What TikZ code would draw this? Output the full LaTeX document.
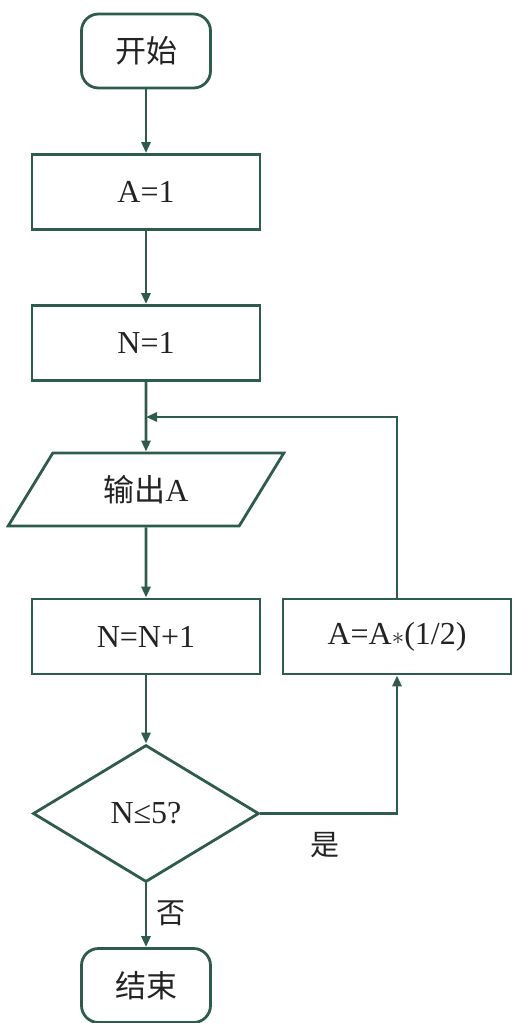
\documentclass[tikz,border=0pt]{standalone}
\usepackage{fontspec}
\setmainfont{Liberation Serif}
\newfontfamily\cjk{Noto Sans CJK SC}
\usetikzlibrary{shapes.geometric,arrows.meta}
\definecolor{lc}{RGB}{45,92,78}
\definecolor{tc}{RGB}{35,35,35}
\begin{document}
\begin{tikzpicture}[x=1pt,y=-1pt,
  every node/.style={text=tc, font=\fontsize{32}{34}\selectfont},
  boxnode/.style={draw=lc, line width=2.8pt, rectangle, minimum width=228pt, minimum height=75pt, inner sep=0pt},
  termnode/.style={draw=lc, line width=2.8pt, rectangle, rounded corners=17pt, minimum width=129pt, minimum height=74pt, inner sep=0pt, font=\cjk\fontsize{31}{33}\selectfont},
  ionode/.style={draw=lc, line width=2.8pt, trapezium, trapezium left angle=54.5, trapezium right angle=125.5, trapezium stretches=true, minimum width=276pt, minimum height=73pt, inner sep=0pt},
  decnode/.style={draw=lc, line width=2.8pt, diamond, minimum width=226pt, minimum height=137pt, inner sep=0pt},
  flow/.style={draw=lc, line width=2.8pt, -{Triangle[length=11pt,width=9pt]}},
  lbl/.style={font=\cjk\fontsize{29}{31}\selectfont}
]
\useasboundingbox (0,0) rectangle (513,1023);

\node[termnode] (start) at (146,51) {开始};
\node[boxnode] (a1) at (146,192) {A=1};
\node[boxnode] (n1) at (146,343) {N=1};
\node[ionode] (out) at (146,489.5) {{\cjk\fontsize{31}{33}\selectfont 输出}A};
\node[boxnode] (inc) at (146,636.5) {N=N+1};
\node[boxnode] (half) at (397,636.5) {A=A$*$(1/2)};
\node[decnode] (dia) at (146,813.5) {N≤5?};
\node[termnode] (stop) at (146,985.5) {结束};
\coordinate (join) at (146,417);

\node[lbl] (yes) at (325,845) {是};
\node[lbl] (no) at (171,913) {否};

\draw[flow] (start) -- (a1);
\draw[flow] (a1) -- (n1);
\draw[flow] (n1) -- (out);
\draw[flow] (out) -- (inc);
\draw[flow] (inc) -- (dia);
\draw[flow] (dia) -- (stop);
\draw[flow] (dia.east) -| (half.south);
\draw[flow] (half.north) |- (join);
\end{tikzpicture}
\end{document}
